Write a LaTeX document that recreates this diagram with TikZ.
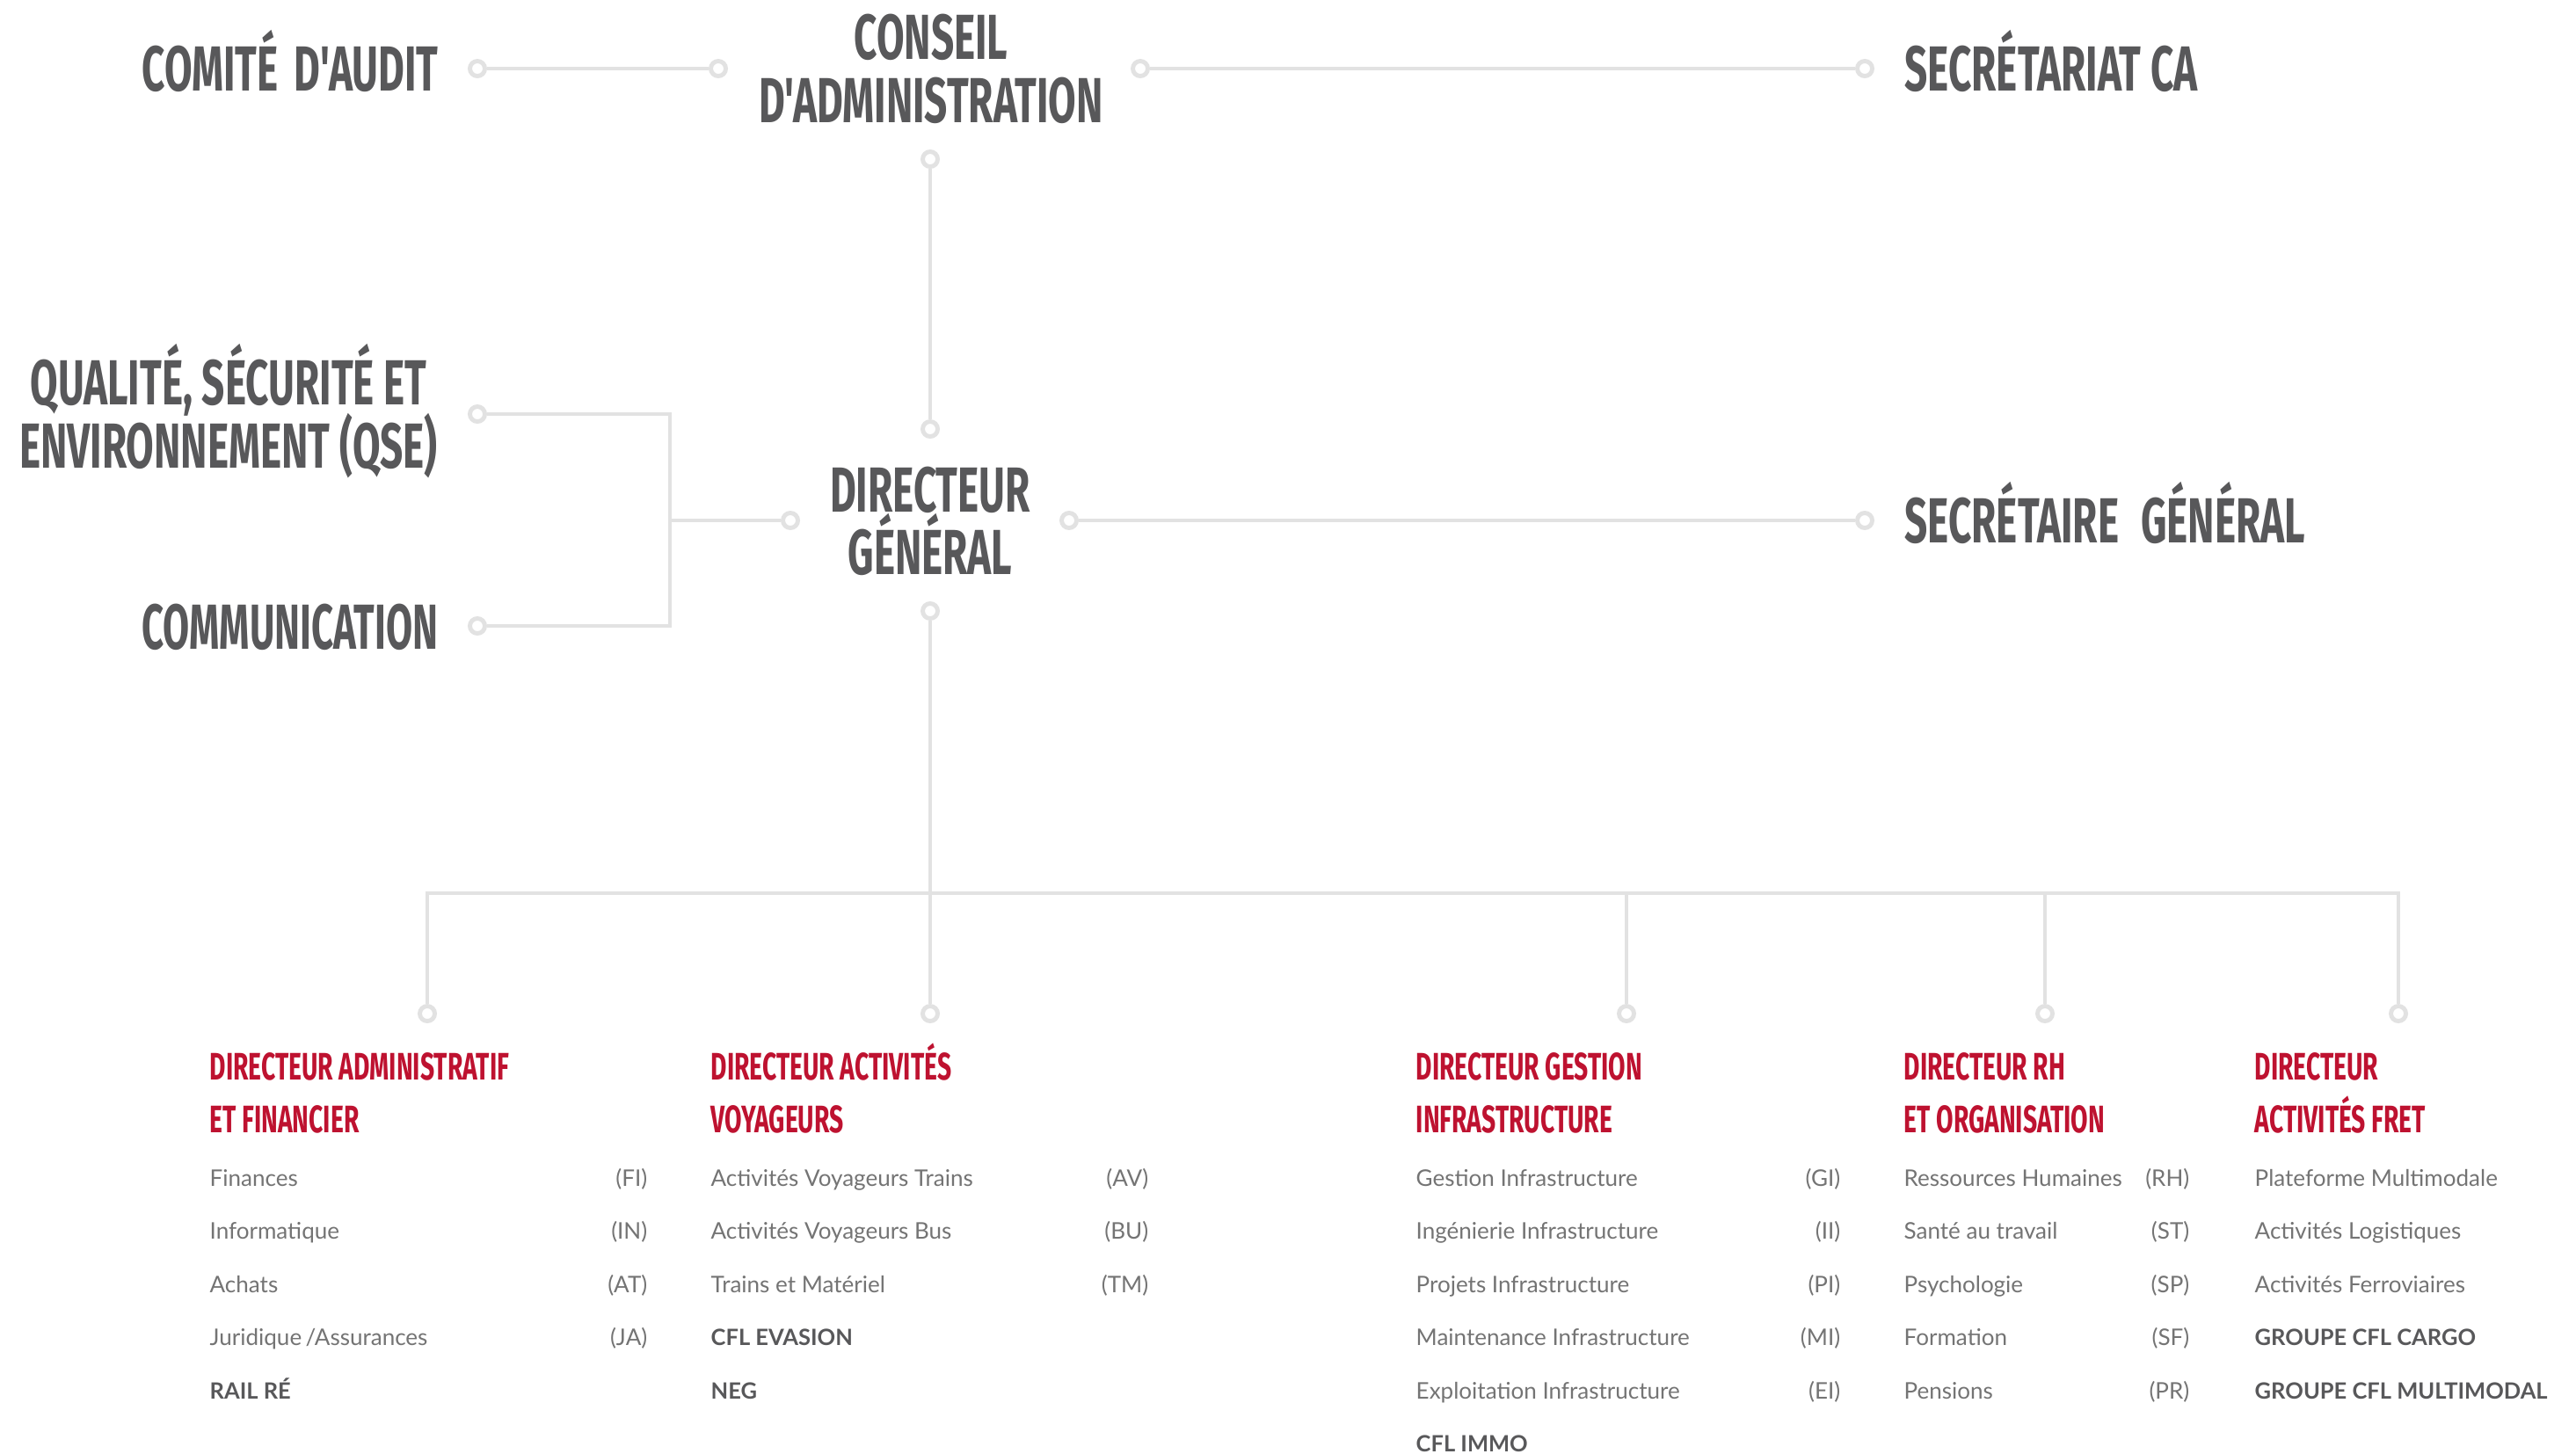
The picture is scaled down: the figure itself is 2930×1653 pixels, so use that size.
\documentclass[tikz,border=0pt]{standalone}
\usepackage{fontspec}
\setmainfont{Lato}
\newfontfamily\ttl[FakeStretch=0.632]{Fira Sans}
\newfontfamily\ttn[FakeStretch=0.602]{Fira Sans}
\newfontfamily\hdl[FakeStretch=0.648]{Fira Sans}
\definecolor{tg}{HTML}{58585A}
\definecolor{rd}{HTML}{BE1230}
\definecolor{bg}{HTML}{747474}
\definecolor{lc}{HTML}{E2E2E2}
\tikzset{
  ring/.style={circle, draw=lc, line width=1.4pt, fill=white, minimum size=0.17cm, inner sep=0pt},
  conn/.style={draw=lc, line width=1.3pt},
  big/.style={font=\ttl\bfseries\fontsize{20.6}{20.6}\selectfont, text=tg, inner sep=0pt},
  bign/.style={big, font=\ttn\bfseries\fontsize{20.6}{20.6}\selectfont},
  head/.style={font=\hdl\bfseries\fontsize{12.4}{12.4}\selectfont, text=rd, inner sep=0pt, anchor=base west},
  item/.style={font=\fontsize{7.4}{7.4}\selectfont, text=bg, inner sep=0pt, anchor=base west},
  code/.style={item, anchor=base east},
  bitem/.style={font=\bfseries\fontsize{7.25}{7.25}\selectfont, text=tg, inner sep=0pt, anchor=base west}
}
\begin{document}
\begin{tikzpicture}[x=0.01cm,y=-0.01cm]
\useasboundingbox[fill=white] (0,0) rectangle (2930,1653);

% rings
\node[ring] (rca) at (543,78) {};
\node[ring] (rcsl) at (817,78) {};
\node[ring] (rcsr) at (1297,78) {};
\node[ring] (rsca) at (2121,78) {};
\node[ring] (rcsb) at (1058,181) {};
\node[ring] (rdgt) at (1058,488) {};
\node[ring] (rdgl) at (899,592) {};
\node[ring] (rdgr) at (1216,592) {};
\node[ring] (rsg) at (2121,592) {};
\node[ring] (rdgb) at (1058,695) {};
\node[ring] (rqse) at (543,471) {};
\node[ring] (rcom) at (543,712) {};
\node[ring] (rb1) at (486,1153) {};
\node[ring] (rb2) at (1058,1153) {};
\node[ring] (rb3) at (1850,1153) {};
\node[ring] (rb4) at (2326,1153) {};
\node[ring] (rb5) at (2728,1153) {};

\coordinate (bq) at (762,471);
\coordinate (bc) at (762,712);
\coordinate (bm) at (762,592);
\coordinate (j1) at (486,1016);
\coordinate (j3) at (1850,1016);
\coordinate (j4) at (2326,1016);
\coordinate (j5) at (2728,1016);

% connectors
\draw[conn] (rca) -- (rcsl);
\draw[conn] (rcsr) -- (rsca);
\draw[conn] (rcsb) -- (rdgt);
\draw[conn] (rdgr) -- (rsg);
\draw[conn] (rqse) -- (bq) -- (bc) -- (rcom);
\draw[conn] (bm) -- (rdgl);
\draw[conn] (rdgb) -- (rb2);
\draw[conn] (rb1) -- (j1) -- (j5) -- (rb5);
\draw[conn] (j3) -- (rb3);
\draw[conn] (j4) -- (rb4);

% top titles
\node[big, anchor=base east] (comite) at (499,103) {COMITÉ\hspace{2pt} D'AUDIT};
\node[big, anchor=base] (cs1) at (1059,67) {CONSEIL};
\node[big, anchor=base] (cs2) at (1059,139) {D'ADMINISTRATION};
\node[big, anchor=base west] (secca) at (2166,103) {SECRÉTARIAT CA};
\node[big, anchor=base] (qse1) at (260,460) {QUALITÉ, SÉCURITÉ ET};
\node[big, anchor=base] (qse2) at (260,532) {ENVIRONNEMENT (QSE)};
\node[bign, anchor=base east] (comm) at (499,738) {COMMUNICATION};
\node[big, anchor=base] (dg1) at (1058,582) {DIRECTEUR};
\node[big, anchor=base] (dg2) at (1058,653) {GÉNÉRAL};
\node[big, anchor=base west] (secg) at (2166,617) {SECRÉTAIRE\hspace{4pt} GÉNÉRAL};

% column 1
\node[head] (h1a) at (238,1228) {DIRECTEUR ADMINISTRATIF};
\node[head] (h1b) at (238,1288) {ET FINANCIER};
\node[item] (a1) at (238,1349) {Finances};
\node[code] (ac1) at (737,1349) {(FI)};
\node[item] (a2) at (238,1409) {Informatique};
\node[code] (ac2) at (737,1409) {(IN)};
\node[item] (a3) at (238,1470) {Achats};
\node[code] (ac3) at (737,1470) {(AT)};
\node[item] (a4) at (238,1530) {Juridique\,/Assurances};
\node[code] (ac4) at (737,1530) {(JA)};
\node[bitem] (a5) at (238,1591) {RAIL RÉ};

% column 2
\node[head] (h2a) at (808,1228) {DIRECTEUR ACTIVITÉS};
\node[head] (h2b) at (808,1288) {VOYAGEURS};
\node[item] (b1) at (808,1349) {Activités Voyageurs Trains};
\node[code] (bc1) at (1307,1349) {(AV)};
\node[item] (b2) at (808,1409) {Activités Voyageurs Bus};
\node[code] (bc2) at (1307,1409) {(BU)};
\node[item] (b3) at (808,1470) {Trains et Matériel};
\node[code] (bc3) at (1307,1470) {(TM)};
\node[bitem] (b4) at (808,1530) {CFL EVASION};
\node[bitem] (b5) at (808,1591) {NEG};

% column 3
\node[head] (h3a) at (1610,1228) {DIRECTEUR GESTION};
\node[head] (h3b) at (1610,1288) {INFRASTRUCTURE};
\node[item] (c1) at (1610,1349) {Gestion Infrastructure};
\node[code] (cc1) at (2094,1349) {(GI)};
\node[item] (c2) at (1610,1409) {Ingénierie Infrastructure};
\node[code] (cc2) at (2094,1409) {(II)};
\node[item] (c3) at (1610,1470) {Projets Infrastructure};
\node[code] (cc3) at (2094,1470) {(PI)};
\node[item] (c4) at (1610,1530) {Maintenance Infrastructure};
\node[code] (cc4) at (2094,1530) {(MI)};
\node[item] (c5) at (1610,1591) {Exploitation Infrastructure};
\node[code] (cc5) at (2094,1591) {(EI)};
\node[bitem] (c6) at (1610,1651) {CFL IMMO};

% column 4
\node[head] (h4a) at (2165,1228) {DIRECTEUR RH};
\node[head] (h4b) at (2165,1288) {ET ORGANISATION};
\node[item] (d1) at (2165,1349) {Ressources Humaines};
\node[code] (dc1) at (2491,1349) {(RH)};
\node[item] (d2) at (2165,1409) {Santé au travail};
\node[code] (dc2) at (2491,1409) {(ST)};
\node[item] (d3) at (2165,1470) {Psychologie};
\node[code] (dc3) at (2491,1470) {(SP)};
\node[item] (d4) at (2165,1530) {Formation};
\node[code] (dc4) at (2491,1530) {(SF)};
\node[item] (d5) at (2165,1591) {Pensions};
\node[code] (dc5) at (2491,1591) {(PR)};

% column 5
\node[head] (h5a) at (2564,1228) {DIRECTEUR};
\node[head] (h5b) at (2564,1288) {ACTIVITÉS FRET};
\node[item] (e1) at (2564,1349) {Plateforme Multimodale};
\node[item] (e2) at (2564,1409) {Activités Logistiques};
\node[item] (e3) at (2564,1470) {Activités Ferroviaires};
\node[bitem] (e4) at (2564,1530) {GROUPE CFL CARGO};
\node[bitem] (e5) at (2564,1591) {GROUPE CFL MULTIMODAL};
\end{tikzpicture}
\end{document}
